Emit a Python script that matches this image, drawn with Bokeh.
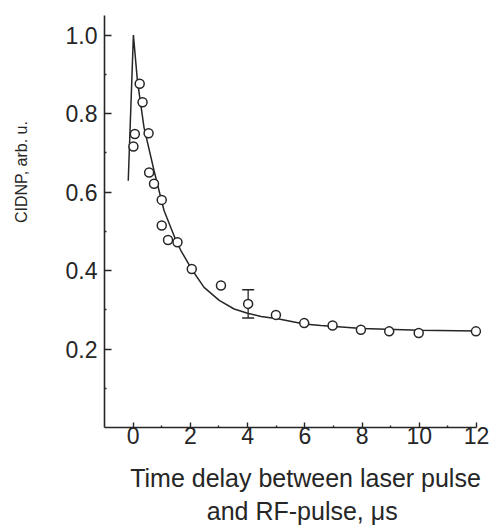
import numpy as np
from bokeh.plotting import figure
from bokeh.models import (ColumnDataSource, Whisker, TeeHead, FixedTicker, Range1d,
                          Label, PrintfTickFormatter)
from bokeh.embed import file_html
from bokeh.resources import INLINE

# ---- data ----
delay_us = [0.01, 0.06, 0.23, 0.33, 0.54, 0.56, 0.73, 1.0, 1.0, 1.22, 1.55,
            2.05, 3.07, 4.02, 4.99, 5.98, 6.97, 7.96, 8.95, 9.98, 11.98]
cidnp = [0.716, 0.748, 0.876, 0.829, 0.750, 0.650, 0.621, 0.580, 0.515, 0.478, 0.472,
         0.404, 0.362, 0.315, 0.287, 0.266, 0.260, 0.249, 0.245, 0.241, 0.245]

err_t = [4.02]
err_lo = [0.279]
err_hi = [0.351]

fit_t = [-0.17, 0.01, 0.15, 0.38, 0.73, 1.08, 1.49, 1.67, 2.04, 2.48, 3.01, 3.53,
         4.0, 4.47, 5.05, 5.98, 6.56, 8.0, 10.0, 12.0]
fit_v = [0.629, 1.0, 0.884, 0.765, 0.655, 0.553, 0.478, 0.451, 0.404, 0.357, 0.324, 0.302,
         0.291, 0.283, 0.277, 0.264, 0.260, 0.252, 0.248, 0.246]

x_ticks = [0, 2, 4, 6, 8, 10, 12]
x_minor = [1, 3, 5, 7, 9, 11]
y_ticks = [0.2, 0.4, 0.6, 0.8, 1.0]
y_minor = [0.1, 0.3, 0.5, 0.7, 0.9]

x_label_lines = ["Time delay between laser pulse", "and RF-pulse, \u03bcs"]
y_label = "CIDNP, arb. u."

INK = "#262626"
FONT = "Liberation Sans"

# axes drawn inside a frame that covers the whole canvas
X_AX = (-1, 12)
Y_AX = (0, 1.05)

p = figure(width=490, height=532,
           x_range=Range1d(-4.6345, 12.4893), y_range=Range1d(-0.2676, 1.0882),
           output_backend="svg", toolbar_location=None,
           min_border_left=0, min_border_right=0,
           min_border_top=0, min_border_bottom=0)
p.outline_line_color = None
p.grid.visible = False
p.background_fill_color = "white"
p.border_fill_color = "white"

for ax in (p.xaxis[0], p.yaxis[0]):
    ax.axis_line_color = INK
    ax.axis_line_width = 1.6
    ax.major_tick_line_color = INK
    ax.minor_tick_line_color = INK
    ax.major_tick_line_width = 1.4
    ax.minor_tick_line_width = 1.4
    ax.major_tick_out = 0
    ax.minor_tick_out = 0
    ax.major_label_text_font = FONT
    ax.major_label_text_font_size = "23px"
    ax.major_label_text_color = INK

p.xaxis.fixed_location = Y_AX[0]
p.yaxis.fixed_location = X_AX[0]
p.xaxis.bounds = X_AX
p.yaxis.bounds = Y_AX
p.xaxis.ticker = FixedTicker(ticks=x_ticks, minor_ticks=x_minor)
p.yaxis.ticker = FixedTicker(ticks=y_ticks, minor_ticks=y_minor)
p.yaxis.formatter = PrintfTickFormatter(format="%.1f")
p.xaxis.major_tick_in = 5
p.xaxis.minor_tick_in = 2
p.yaxis.major_tick_in = 7
p.yaxis.minor_tick_in = 2
p.xaxis.major_label_standoff = 0
p.yaxis.major_label_standoff = 7

# fit curve
p.line(fit_t, fit_v, line_color=INK, line_width=1.5)

# error bar
err_src = ColumnDataSource(dict(t=err_t, lo=err_lo, hi=err_hi))
wh = Whisker(base="t", lower="lo", upper="hi", source=err_src, dimension="height",
             line_color=INK, line_width=1.3,
             upper_head=TeeHead(size=12, line_color=INK, line_width=1.3),
             lower_head=TeeHead(size=12, line_color=INK, line_width=1.3))
p.add_layout(wh)

# data points
p.scatter(delay_us, cidnp, marker="circle", size=9, fill_color="white",
          line_color=INK, line_width=1.5)

# axis titles
p.add_layout(Label(x=-3.90, y=0.651, text=y_label, angle=np.pi / 2,
                   text_align="center", text_baseline="middle",
                   text_font=FONT, text_font_size="16px", text_color=INK))
p.add_layout(Label(x=6.024, y=-0.1282, text=x_label_lines[0],
                   text_align="center", text_baseline="middle",
                   text_font=FONT, text_font_size="25px", text_color=INK))
p.add_layout(Label(x=5.909, y=-0.2123, text=x_label_lines[1],
                   text_align="center", text_baseline="middle",
                   text_font=FONT, text_font_size="25px", text_color=INK))

open("out.html", "w").write(file_html(p, INLINE))
